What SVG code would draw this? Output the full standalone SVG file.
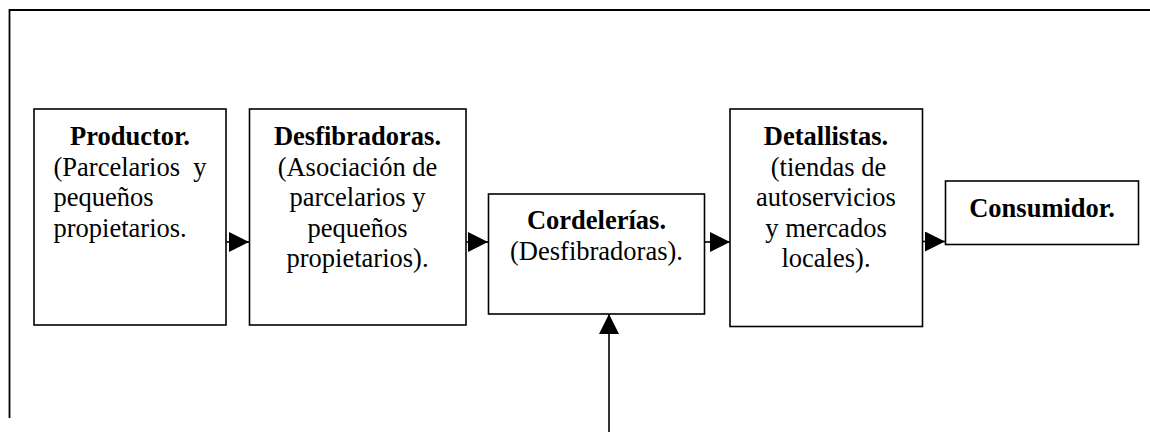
<svg xmlns="http://www.w3.org/2000/svg" width="1150" height="432" viewBox="0 0 1150 432">
<style>
.box{fill:#fff;stroke:#000;stroke-width:1.6}
.frame{fill:none;stroke:#000;stroke-width:1.8}
text{font-family:'Liberation Serif',Tinos,'Times New Roman',Times,serif;font-size:26.5px;fill:#000}
.b{font-weight:bold}
.c{text-anchor:middle}
.conn{stroke:#000;stroke-width:1.6;fill:none}
</style>
<defs>
<marker id="ah" markerUnits="userSpaceOnUse" markerWidth="21" markerHeight="20" refX="20" refY="10" orient="auto">
<path d="M0,0 L20,10 L0,20 Z" fill="#000"/>
</marker>
</defs>
<rect width="1150" height="432" fill="#fff"/>
<path class="frame" d="M9.5,418 V10 H1150"/>
<g id="connectors">
<path class="conn" d="M226,242 H249" marker-end="url(#ah)"/>
<path class="conn" d="M466,242 H488" marker-end="url(#ah)"/>
<path class="conn" d="M705,242 H730" marker-end="url(#ah)"/>
<path class="conn" d="M922,241.5 H945" marker-end="url(#ah)"/>
<path class="conn" d="M609,432 V314" marker-end="url(#ah)"/>
</g>
<g font-family="Liberation Serif, serif" font-size="26.5">
<g id="productor">
<rect class="box" x="34" y="109" width="192" height="216"/>
<text class="b c" x="130" y="145">Productor.</text>
<text x="53.5" y="175.5" xml:space="preserve">(Parcelarios  y</text>
<text x="53.5" y="206">pequeños</text>
<text x="53.5" y="236.5">propietarios.</text>
</g>
<g id="desfibradoras">
<rect class="box" x="249.5" y="109" width="216.5" height="216"/>
<text class="b c" x="357.5" y="145">Desfibradoras.</text>
<text class="c" x="357.5" y="175.5">(Asociación de</text>
<text class="c" x="357.5" y="206">parcelarios y</text>
<text class="c" x="357.5" y="236.5">pequeños</text>
<text class="c" x="357.5" y="267">propietarios).</text>
</g>
<g id="cordelerias">
<rect class="box" x="488.5" y="194" width="216" height="120"/>
<text class="b c" x="596.5" y="229">Cordelerías.</text>
<text class="c" x="596.5" y="260">(Desfibradoras).</text>
</g>
<g id="detallistas">
<rect class="box" x="730" y="109" width="192.5" height="217.5"/>
<text class="b c" x="826" y="145">Detallistas.</text>
<text class="c" x="828.5" y="175.5">(tiendas de</text>
<text class="c" x="826" y="206">autoservicios</text>
<text class="c" x="826" y="236.5">y mercados</text>
<text class="c" x="826" y="267">locales).</text>
</g>
<g id="consumidor">
<rect class="box" x="945.5" y="181" width="193" height="63.5"/>
<text class="b c" x="1042" y="217">Consumidor.</text>
</g>
</g>
</svg>
